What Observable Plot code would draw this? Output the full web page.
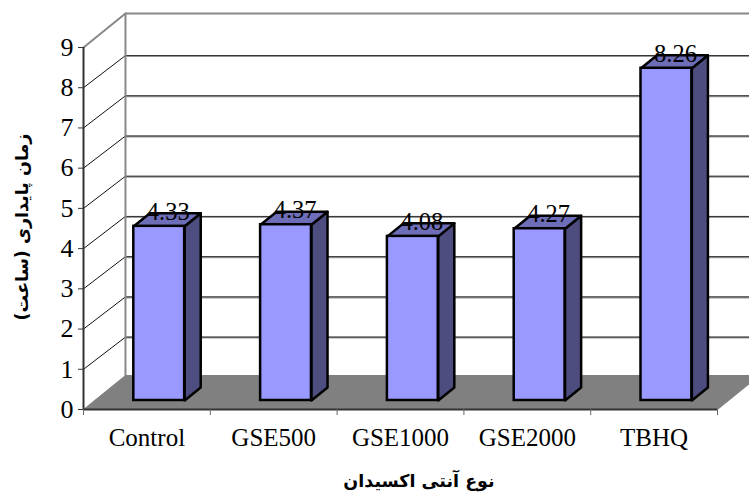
<!DOCTYPE html>
<html><head><meta charset="utf-8">
<script src="https://cdn.jsdelivr.net/npm/d3@7"></script>
<script src="https://cdn.jsdelivr.net/npm/@observablehq/plot@0.6"></script>
<style>html,body{margin:0;padding:0;background:#fff}svg{display:block;overflow:visible}</style>
</head><body><div id="c"></div>
<script>
const categories = ["Control","GSE500","GSE1000","GSE2000","TBHQ"];
const values = [4.33,4.37,4.08,4.27,8.26];
const yTicks = [0,1,2,3,4,5,6,7,8,9];
const xEdges = [0,1,2,3,4,5];
const gridValues = [1,2,3,4,5,6,7,8];
const xTitle = "نوع آنتی اکسیدان";
const yTitle = "زمان پایداری (ساعت)";

// oblique projection of a (category, value, depth) position into the chart's scale domain
const skewX = 0.331, skewY = 0.845, gridSkewY = 0.8;
const P = (x,y,z=0)=>({x:x+z*skewX, y:y+z*skewY});
const poly = (pts,id)=>[...pts,pts[0]].map(p=>({...p,id}));

const zFront=0.265, zBack=0.648, gapL=0.309, gapR=0.71;
const bars = values.map((v,i)=>({v,i,l:i+gapL,r:i+gapR}));
const sides = bars.flatMap(b=>poly([P(b.r,0,zFront),P(b.r,0,zBack),P(b.r,b.v,zBack),P(b.r,b.v,zFront)],b.i));
const tops = bars.flatMap(b=>poly([P(b.l,b.v,zFront),P(b.r,b.v,zFront),P(b.r,b.v,zBack),P(b.l,b.v,zBack)],b.i));
const fronts = bars.map(b=>({x1:P(b.l,0,zFront).x,x2:P(b.r,0,zFront).x,y1:P(0,0,zFront).y,y2:P(0,b.v,zFront).y}));
const labels = bars.map(b=>({...P((b.l+b.r)/2,b.v,(zFront+zBack)/2),t:b.v.toFixed(2)}));
const floor = poly([P(0,0,0),P(5,0,0),P(5,0,1),P(0,0,1)],"floor");
const gridBack = gridValues.flatMap(v=>[{x:skewX,y:v+gridSkewY,id:v},{x:5.2+skewX,y:v+gridSkewY,id:v}]);
const gridDiag = gridValues.flatMap(v=>[{x:0,y:v,id:v},{x:skewX,y:v+gridSkewY,id:v}]);
const wall = [P(0,9,0),P(0,9,1),P(5.2,9,1)];
const wallV = [P(0,0,1),P(0,9,1)];
const ink = "#333";
const serif = "Liberation Serif";

const chart = Plot.plot({
  width:749,height:495,marginLeft:83,marginRight:32,marginTop:47,marginBottom:86,
  style:{fontFamily:serif,background:"transparent",overflow:"visible"},
  x:{type:"linear",domain:[0,5],axis:null},
  y:{type:"linear",domain:[0,9],axis:null},
  marks:[
    Plot.line(gridBack,{x:"x",y:"y",z:"id",stroke:"#999",strokeWidth:2,dy:0.5}),
    Plot.line(gridBack,{x:"x",y:"y",z:"id",stroke:"#333",strokeWidth:1}),
    Plot.line(gridDiag,{x:"x",y:"y",z:"id",stroke:"#111",strokeWidth:1}),
    Plot.line(wall,{x:"x",y:"y",stroke:"#888",strokeWidth:2}),
    Plot.line(wallV,{x:"x",y:"y",stroke:"#888",strokeWidth:2}),
    Plot.line(floor,{x:"x",y:"y",fill:"#808080",stroke:"#808080",strokeWidth:1}),
    Plot.line(sides,{x:"x",y:"y",z:"id",fill:"#4d4d80",stroke:"#000",strokeWidth:2.5}),
    Plot.line(tops,{x:"x",y:"y",z:"id",fill:"#6e6eb8",stroke:"#000",strokeWidth:2.5}),
    Plot.rect(fronts,{x1:"x1",x2:"x2",y1:"y1",y2:"y2",fill:"#9999ff",stroke:"#000",strokeWidth:2.5}),
    Plot.ruleX([0],{y1:0,y2:9,stroke:ink,strokeWidth:2}),
    Plot.ruleY([0],{x1:0,x2:5,stroke:ink,strokeWidth:2}),
    Plot.axisY({ticks:yTicks,tickSize:5,tickPadding:5,fontSize:26,stroke:ink,fill:"#000",label:null,tickFormat:d=>d}),
    Plot.axisX({ticks:xEdges,tickSize:6,tickFormat:()=>"",stroke:"#666",label:null}),
    Plot.axisX({ticks:xEdges.slice(0,5).map(d=>d+.5),tickSize:0,tickPadding:19,fontSize:25,fill:"#000",label:null,tickFormat:d=>categories[d-.5]}),
    Plot.text(labels,{x:"x",y:"y",text:"t",fontSize:24.5,fill:"#000",dy:-8,dx:1})
  ]
});
// axis titles as real text below
const svg = d3.select(chart.tagName==="svg"?chart:chart.querySelector("svg"));
svg.append("text").attr("x",419).attr("y",487).attr("text-anchor","middle").attr("direction","rtl")
  .attr("font-family","DejaVu Sans").attr("font-weight","bold").attr("font-size",17.5).attr("fill","#000").text(xTitle);
svg.append("text").attr("transform","translate(28,227) rotate(-90)").attr("text-anchor","middle").attr("direction","rtl")
  .attr("font-family","DejaVu Sans").attr("font-weight","bold").attr("font-size",17.5).attr("fill","#000").text(yTitle);
document.getElementById("c").append(chart);
</script></body></html>
